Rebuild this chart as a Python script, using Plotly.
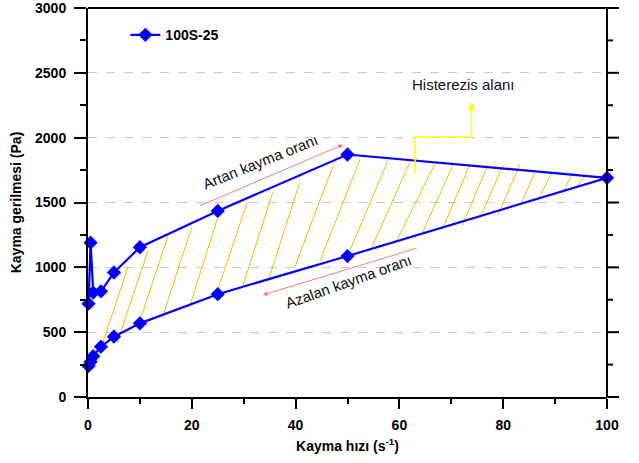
import plotly.graph_objects as go

# ---- data ----
shear_rate_up = [0.1, 0.5, 1, 2.5, 5, 10, 25, 50, 100]
stress_up = [720, 1190, 805, 815, 960, 1155, 1435, 1870, 1690]
shear_rate_down = [50, 25, 10, 5, 2.5, 1, 0.5, 0.1]
stress_down = [1087, 793, 568, 465, 388, 315, 272, 240]

# hysteresis hatch segments (start -> end)
hatch_x0 = [1.9, 5.6, 10.0, 14.3, 19.5, 25.0, 29.9, 34.9, 39.9, 44.7, 50.5,
            54.7, 59.5, 64.5, 68.2, 72.1, 75.5, 79.0, 83.6, 86.7, 91.3, 94.2]
hatch_y0 = [302, 418, 587, 610, 687, 825, 864, 918, 1010, 1048, 1133,
            1156, 1210, 1272, 1287, 1325, 1379, 1402, 1502, 1518, 1556, 1618]
hatch_x1 = [7.7, 11.6, 15.4, 20.0, 25.0, 30.6, 35.6, 40.8, 47.2, 52.4, 57.8,
            62.0, 66.9, 70.3, 73.6, 77.1, 80.0, 83.2, 86.1, 89.4, 93.4, 96.1]
hatch_y1 = [1002, 1133, 1241, 1310, 1387, 1494, 1579, 1656, 1779, 1833, 1825,
            1810, 1802, 1787, 1795, 1795, 1787, 1795, 1733, 1733, 1733, 1726]

x_ticks = [0, 20, 40, 60, 80, 100]
y_ticks = [0, 500, 1000, 1500, 2000, 2500, 3000]
y_range = [0, 3000]

series_name = "100S-25"
x_title = "Kayma hızı (s<sup>-1</sup>)"
y_title = "Kayma gerilmesi (Pa)"

FONT = "Liberation Sans, Arial, sans-serif"
PLOT_W = 639 - 88 - 32

fig = go.Figure()

# hatch
hx, hy = [], []
for a, b, c, d in zip(hatch_x0, hatch_y0, hatch_x1, hatch_y1):
    hx += [a, c, None]
    hy += [b, d, None]
fig.add_trace(go.Scatter(x=hx, y=hy, mode="lines",
                         line=dict(color="#FFB400", width=1),
                         showlegend=False, hoverinfo="skip"))

fig.add_trace(go.Scatter(
    x=shear_rate_up + shear_rate_down,
    y=stress_up + stress_down,
    mode="lines+markers",
    name=series_name,
    line=dict(color="#0000FF", width=2.2),
    marker=dict(symbol="diamond", size=11, color="#0000FF"),
    cliponaxis=False,
))


def frac(v):
    return (v - y_range[0]) / (y_range[1] - y_range[0])


# frame: top line, right line and right-hand ticks
fig.add_shape(type="line", xref="paper", yref="paper", x0=0, x1=1, y0=1, y1=1,
              line=dict(color="black", width=2))
fig.add_shape(type="line", xref="paper", yref="paper", x0=1, x1=1, y0=0, y1=1,
              line=dict(color="black", width=2))
for i, v in enumerate(y_ticks):
    fig.add_shape(type="line", xref="paper", yref="paper", x0=1,
                  x1=1 + 12 / PLOT_W, y0=frac(v), y1=frac(v),
                  line=dict(color="black", width=2))
    if i < len(y_ticks) - 1:
        m = frac((v + y_ticks[i + 1]) / 2)
        fig.add_shape(type="line", xref="paper", yref="paper", x0=1,
                      x1=1 + 6 / PLOT_W, y0=m, y1=m,
                      line=dict(color="black", width=2))

# annotations: arrows
arrow_col = "#FF6A6A"
fig.add_annotation(x=49.1, y=1945, ax=21.3, ay=1470, xref="x", yref="y",
                   axref="x", ayref="y", showarrow=True, arrowhead=2,
                   arrowsize=1, arrowwidth=0.9, arrowcolor=arrow_col, text="")
fig.add_annotation(x=33.7, y=787, ax=63.6, ay=1151, xref="x", yref="y",
                   axref="x", ayref="y", showarrow=True, arrowhead=2,
                   arrowsize=1, arrowwidth=0.9, arrowcolor=arrow_col, text="")

TXT = dict(family=FONT, size=15, color="#111")
fig.add_annotation(x=33.3, y=1816, text="Artan kayma oranı", textangle=-22,
                   showarrow=False, font=TXT)
fig.add_annotation(x=50.1, y=893, text="Azalan kayma oranı", textangle=-19.6,
                   showarrow=False, font=TXT)
fig.add_annotation(x=72.3, y=2410, text="Histerezis alanı",
                   showarrow=False, font=TXT)

# yellow connector
yel = "#FFFF00"
fig.add_shape(type="line", x0=63.0, y0=1723, x1=63.0, y1=2005,
              line=dict(color=yel, width=1.5))
fig.add_shape(type="line", x0=63.0, y0=2005, x1=73.9, y1=2005,
              line=dict(color=yel, width=1.5))
fig.add_annotation(x=73.9, y=2274, ax=73.9, ay=2005, xref="x", yref="y",
                   axref="x", ayref="y", showarrow=True, arrowhead=2,
                   arrowsize=1, arrowwidth=1.5, arrowcolor=yel, text="")

TICKF = dict(family=FONT, size=14, color="black", weight="bold")
TITLEF = dict(family=FONT, size=14, color="black", weight="bold")

fig.update_xaxes(range=[0, 100], tickvals=x_ticks, showgrid=False,
                 showline=True, linecolor="black", linewidth=2, mirror=False,
                 ticks="outside", ticklen=10, tickwidth=2, tickcolor="black",
                 minor=dict(dtick=10, ticks="outside", ticklen=5, tickwidth=2,
                            tickcolor="black", showgrid=False),
                 tickfont=TICKF, ticklabelstandoff=4, automargin=False,
                 ticklabeloverflow="allow",
                 title=dict(text=x_title, standoff=9, font=TITLEF),
                 zeroline=False)
fig.update_yaxes(range=y_range, tickvals=y_ticks, showgrid=True,
                 gridcolor="#C8C8C8", griddash="dash", gridwidth=1,
                 showline=True, linecolor="black", linewidth=2, mirror=False,
                 ticks="outside", ticklen=12, tickwidth=2, tickcolor="black",
                 minor=dict(dtick=250, ticks="outside", ticklen=6, tickwidth=2,
                            tickcolor="black", showgrid=False),
                 tickfont=TICKF, ticklabelstandoff=5, automargin=False,
                 ticklabeloverflow="allow",
                 title=dict(text=y_title, standoff=10, font=TITLEF),
                 zeroline=False)

fig.update_layout(
    width=639, height=463,
    margin=dict(l=88, r=32, t=8, b=66),
    plot_bgcolor="white", paper_bgcolor="white",
    showlegend=True,
    legend=dict(x=0.072, y=0.93, xanchor="left", yanchor="middle",
                bgcolor="rgba(0,0,0,0)", borderwidth=0,
                font=dict(family=FONT, size=14, color="black", weight="bold")),
)

fig.write_html("out.html")
